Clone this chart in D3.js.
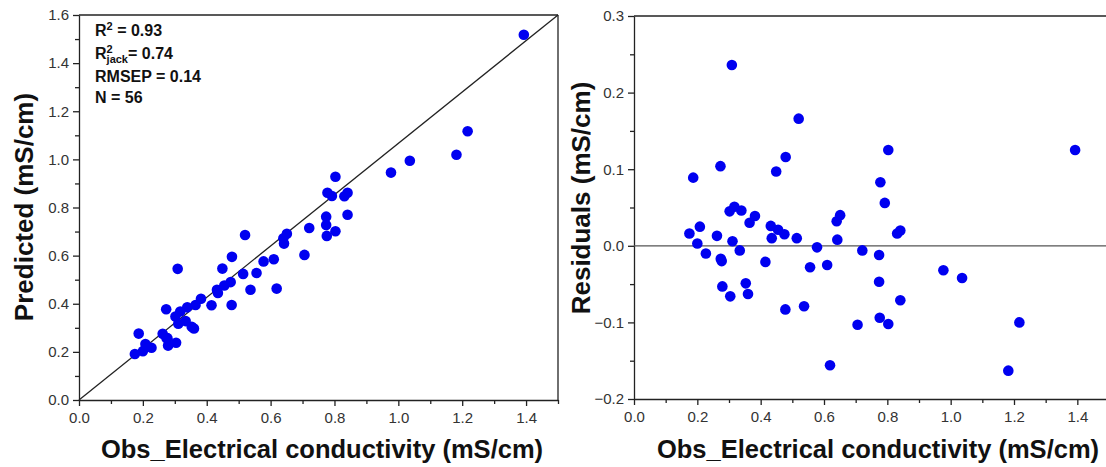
<!DOCTYPE html>
<html>
<head>
<meta charset="utf-8">
<script src="https://cdn.jsdelivr.net/npm/d3@7"></script>
<style>
  body { margin: 0; background: #fff; }
  svg { display: block; font-family: "Liberation Sans", Arial, sans-serif; }
  .tick text { fill: #333; font-size: 15px; }
  .axis path, .axis line { stroke: #222; stroke-width: 1.3; }
</style>
</head>
<body>
<div id="chart"></div>
<script>
// observed electrical conductivity (mS/cm)
const observed = [0.175, 0.187, 0.200, 0.208, 0.227, 0.262, 0.273, 0.274, 0.277, 0.279,
    0.302, 0.304, 0.309, 0.311, 0.317, 0.334, 0.339, 0.353, 0.360, 0.365,
    0.382, 0.415, 0.432, 0.435, 0.449, 0.455, 0.475, 0.478, 0.479, 0.514,
    0.520, 0.537, 0.556, 0.578, 0.610, 0.619, 0.640, 0.642, 0.651, 0.706,
    0.721, 0.774, 0.774, 0.776, 0.778, 0.792, 0.803, 0.803, 0.831, 0.841,
    0.841, 0.977, 1.036, 1.182, 1.217, 1.393];

// predicted values (left panel)
const predicted = [0.191, 0.276, 0.203, 0.233, 0.217, 0.275, 0.377, 0.257, 0.257, 0.226,
    0.347, 0.238, 0.545, 0.317, 0.368, 0.328, 0.385, 0.304, 0.297, 0.395,
    0.421, 0.394, 0.458, 0.445, 0.546, 0.476, 0.490, 0.395, 0.595, 0.524,
    0.686, 0.458, 0.528, 0.576, 0.585, 0.463, 0.672, 0.650, 0.691, 0.603,
    0.715, 0.762, 0.727, 0.682, 0.861, 0.848, 0.928, 0.701, 0.847, 0.861,
    0.770, 0.945, 0.994, 1.019, 1.117, 1.518];

// residuals (right panel)
const residuals = [0.016, 0.089, 0.003, 0.025, -0.010, 0.013, 0.104, -0.017, -0.020, -0.053,
    0.045, -0.066, 0.236, 0.006, 0.051, -0.006, 0.046, -0.049, -0.063, 0.030,
    0.039, -0.021, 0.026, 0.010, 0.097, 0.021, 0.015, -0.083, 0.116, 0.010,
    0.166, -0.079, -0.028, -0.002, -0.025, -0.156, 0.032, 0.008, 0.040, -0.103,
    -0.006, -0.012, -0.047, -0.094, 0.083, 0.056, 0.125, -0.102, 0.016, 0.020,
    -0.071, -0.032, -0.042, -0.163, -0.100, 0.125];

const xTicks = [0.0, 0.2, 0.4, 0.6, 0.8, 1.0, 1.2, 1.4];
const predTicks = [0.0, 0.2, 0.4, 0.6, 0.8, 1.0, 1.2, 1.4, 1.6];
const resTicks = [-0.2, -0.1, 0.0, 0.1, 0.2, 0.3];
const refLine = [[0, 0], [1.5, 1.6]];
const stats = ["R2", "R2jack", "RMSEP = 0.14", "N = 56"];

const W = 1106, H = 467;
const dotColor = "#0000f0";

const svg = d3.select("#chart").append("svg")
    .attr("width", W)
    .attr("height", H);

// scales (ranges in page pixels)
const xL = d3.scaleLinear().domain([0, 1.5]).range([79, 558]);
const yL = d3.scaleLinear().domain([0, 1.6]).range([400, 15]);
const xR = d3.scaleLinear().domain([0, 1.5]).range([634, 1109]);
const yR = d3.scaleLinear().domain([-0.2, 0.3]).range([399, 16]);

const fmt = d3.format(".1f");
const minorX = d3.range(0.1, 1.55, 0.2);

function drawPanel(x, y, yTicks, minorY) {
    let g = svg.append("g");

    // frame (top and right)
    g.append("line")
        .attr("x1", x.range()[0]).attr("x2", x.range()[1])
        .attr("y1", y.range()[1]).attr("y2", y.range()[1])
        .attr("stroke", "#222").attr("stroke-width", 1.3);
    g.append("line")
        .attr("x1", x.range()[1]).attr("x2", x.range()[1])
        .attr("y1", y.range()[0]).attr("y2", y.range()[1])
        .attr("stroke", "#222").attr("stroke-width", 1.3);

    // x axis
    g.append("g")
        .attr("class", "axis")
        .attr("transform", `translate(0,${y.range()[0]})`)
        .call(d3.axisBottom(x).tickValues(xTicks).tickFormat(fmt).tickSize(6).tickPadding(6).tickSizeOuter(0));
    g.append("g")
        .attr("class", "axis minor")
        .attr("transform", `translate(0,${y.range()[0]})`)
        .call(d3.axisBottom(x).tickValues(minorX).tickFormat("").tickSize(4).tickSizeOuter(0))
        .call(s => s.select(".domain").remove());

    // y axis
    g.append("g")
        .attr("class", "axis")
        .attr("transform", `translate(${x.range()[0]},0)`)
        .call(d3.axisLeft(y).tickValues(yTicks).tickFormat(fmt).tickSize(6).tickPadding(4).tickSizeOuter(0));
    g.append("g")
        .attr("class", "axis minor")
        .attr("transform", `translate(${x.range()[0]},0)`)
        .call(d3.axisLeft(y).tickValues(minorY).tickFormat("").tickSize(4).tickSizeOuter(0))
        .call(s => s.select(".domain").remove());

    return g;
}

// ---- left panel: predicted vs observed
const gL = drawPanel(xL, yL, predTicks, d3.range(0.1, 1.6, 0.2));

gL.append("path")
    .datum(refLine)
    .attr("fill", "none")
    .attr("stroke", "#222")
    .attr("stroke-width", 1.3)
    .attr("d", d3.line().x(d => xL(d[0])).y(d => yL(d[1])));

gL.selectAll("circle.pt")
    .data(observed)
    .join("circle")
    .attr("class", "pt")
    .attr("cx", d => xL(d))
    .attr("cy", (d, i) => yL(predicted[i]))
    .attr("r", 5.3)
    .attr("fill", dotColor);

// stats text
const statG = gL.append("g")
    .attr("font-weight", "bold")
    .attr("font-size", 16)
    .attr("fill", "#111");

let t1 = statG.append("text").attr("x", 95).attr("y", 36);
t1.append("tspan").text("R");
t1.append("tspan").attr("font-size", 11).attr("dy", -6).text("2");
t1.append("tspan").attr("dy", 6).text(" = 0.93");

let t2 = statG.append("text").attr("x", 95).attr("y", 59);
t2.append("tspan").text("R");
t2.append("tspan").attr("font-size", 11).attr("dy", -6).text("2");
t2.append("tspan").attr("font-size", 11).attr("dx", -6.1).attr("dy", 10).text("jack");
t2.append("tspan").attr("dy", -4).text("= 0.74");

statG.append("text").attr("x", 95).attr("y", 81.5).text(stats[2]);
statG.append("text").attr("x", 95).attr("y", 102.5).text(stats[3]);

// ---- right panel: residuals
const gR = drawPanel(xR, yR, resTicks, [-0.15, -0.05, 0.05, 0.15, 0.25]);

gR.append("line")
    .attr("x1", xR.range()[0]).attr("x2", xR.range()[1])
    .attr("y1", yR(0)).attr("y2", yR(0))
    .attr("stroke", "#555")
    .attr("stroke-width", 1.3);

gR.selectAll("circle.pt")
    .data(observed)
    .join("circle")
    .attr("class", "pt")
    .attr("cx", d => xR(d))
    .attr("cy", (d, i) => yR(residuals[i]))
    .attr("r", 5.3)
    .attr("fill", dotColor);

// ---- axis titles
const titleStyle = s => s.attr("font-weight", "bold").attr("fill", "#111").attr("text-anchor", "middle");

svg.append("text").call(titleStyle)
    .attr("font-size", 25.5)
    .attr("x", 322).attr("y", 458)
    .text("Obs_Electrical conductivity (mS/cm)");
svg.append("text").call(titleStyle)
    .attr("font-size", 25.5)
    .attr("x", 878).attr("y", 458)
    .text("Obs_Electrical conductivity (mS/cm)");

svg.append("text").call(titleStyle)
    .attr("font-size", 26)
    .attr("transform", "translate(33,207) rotate(-90)")
    .text("Predicted (mS/cm)");
svg.append("text").call(titleStyle)
    .attr("font-size", 26)
    .attr("transform", "translate(590,198) rotate(-90)")
    .text("Residuals (mS/cm)");
</script>
</body>
</html>
